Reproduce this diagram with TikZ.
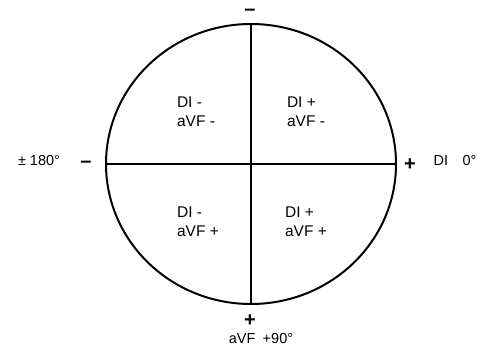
\documentclass[tikz,border=0pt]{standalone}
\usepackage{fontspec}
\setmainfont{Liberation Sans}
\usetikzlibrary{positioning}
\tikzset{quad/.style={align=left,inner sep=0pt,font=\fontsize{15.5}{19}\selectfont},
  lbl/.style={inner sep=0pt,font=\fontsize{14.5}{16}\selectfont},
  sgn/.style={inner sep=0pt,font=\fontsize{20}{20}\selectfont\bfseries}}

\begin{document}
\begin{tikzpicture}[x=1pt,y=-1pt,line width=2pt]
\useasboundingbox (0,0) rectangle (477,347);
\coordinate (O) at (251,164);
\draw (O) ellipse [x radius=145pt,y radius=140pt];
\coordinate (T) at (251,24);
\coordinate (B) at (251,304);
\coordinate (L) at (106,164);
\coordinate (R) at (396,164);
\draw (T)--(B) (L)--(R);
% signs on the axes
\node[sgn] (mtop) at (250,12) {–};
\node[sgn] (mleft) at (86,164) {–};
\node[sgn] (pright) at (410,165) {+};
\node[sgn] (pbot) at (250,321) {+};
\node[lbl] (ang180) at (39,161) {± 180°};
\node[lbl] (ang0) at (455,161) {DI\quad 0°};
\node[lbl] (ang90) at (261,339) {aVF\enspace +90°};
% quadrants
\node[quad] (q1) at (196,112) {DI -\\aVF -};
\node[quad] (q2) at (306,112) {DI +\\aVF -};
\node[quad] (q3) at (198,222) {DI -\\aVF +};
\node[quad] (q4) at (306,222) {DI +\\aVF +};
\end{tikzpicture}
\end{document}
